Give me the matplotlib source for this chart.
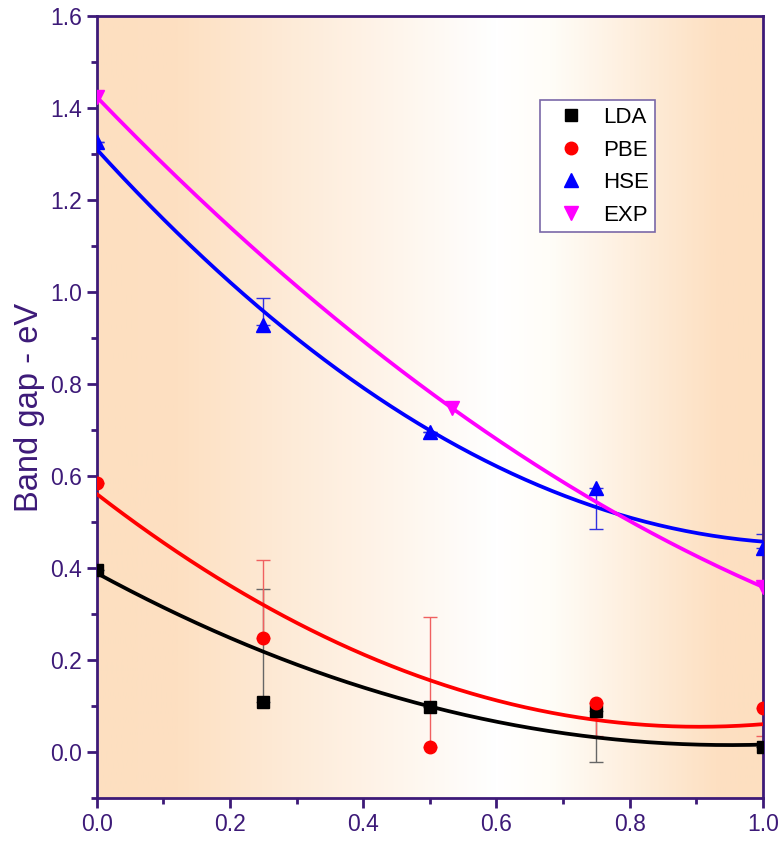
import numpy as np
import matplotlib
matplotlib.use('Agg')
import matplotlib.pyplot as plt
from matplotlib.colors import LinearSegmentedColormap
from matplotlib.lines import Line2D
from matplotlib.ticker import MultipleLocator, FormatStrFormatter

plt.rcParams['font.family'] = ['Liberation Sans', 'DejaVu Sans']

# measured band gaps
x = [0.0, 0.25, 0.5, 0.75, 1.0]
lda = [0.396, 0.109, 0.098, 0.089, 0.012]
pbe = [0.585, 0.248, 0.011, 0.106, 0.096]
hse = [1.326, 0.928, 0.696, 0.574, 0.443]
x_exp = [0.0, 0.533, 1.0]
exp = [1.424, 0.748, 0.359]

# error bars (lower, upper)
lda_err = [[0, 0, 0, 0.11, 0], [0, 0.245, 0, 0, 0]]
pbe_err = [[0, 0, 0, 0.07, 0.06], [0, 0.169, 0.282, 0, 0]]
hse_err = [[0, 0, 0, 0.09, 0], [0, 0.06, 0, 0, 0.03]]

# trend curve values
lda_trend = [0.39, 0.217, 0.098, 0.035, 0.015]
pbe_trend = [0.559, 0.324, 0.157, 0.065, 0.063]
hse_trend = [1.311, 0.957, 0.70, 0.533, 0.457]

purple = '#3d1a78'

fig = plt.figure(figsize=(7.8, 8.41), dpi=100)
ax = fig.add_axes([0.124, 0.051, 0.854, 0.930])

# background gradient
cmap = LinearSegmentedColormap.from_list('bg', [
    (0.0, '#fddfc0'), (0.12, '#fde0c2'), (0.6, '#ffffff'),
    (0.68, '#fffdf8'), (0.93, '#fde0c2'), (1.0, '#fddfc0')])
grad = np.linspace(0, 1, 400).reshape(1, -1)
ax.imshow(grad, cmap=cmap, extent=[0, 1, -0.1, 1.6], aspect='auto', zorder=0)

xx = np.linspace(0, 1, 200)
for trend, col in [(lda_trend, 'black'), (pbe_trend, 'red'), (hse_trend, 'blue')]:
    p = np.polyfit(x, trend, 2)
    ax.plot(xx, np.polyval(p, xx), color=col, lw=2.7, zorder=3)
p = np.polyfit(x_exp, exp, 2)
ax.plot(xx, np.polyval(p, xx), color='#ff00ff', lw=2.7, zorder=3)

ax.errorbar(x, lda, yerr=lda_err, fmt='none', ecolor='#666666', elinewidth=1, capsize=5, zorder=2)
ax.errorbar(x, pbe, yerr=pbe_err, fmt='none', ecolor='#f06060', elinewidth=1, capsize=5, zorder=2)
ax.errorbar(x, hse, yerr=hse_err, fmt='none', ecolor='#3030e0', elinewidth=1, capsize=5, zorder=2)

ax.plot(x, lda, 's', color='black', ms=8, zorder=4)
ax.plot(x, pbe, 'o', color='red', ms=9, zorder=4)
ax.plot(x, hse, '^', color='blue', ms=10, zorder=4)
ax.plot(x_exp, exp, 'v', color='#ff00ff', ms=10, zorder=4)

ax.set_xlim(0, 1)
ax.set_ylim(-0.1, 1.6)
ax.xaxis.set_major_locator(MultipleLocator(0.2))
ax.xaxis.set_minor_locator(MultipleLocator(0.1))
ax.yaxis.set_major_locator(MultipleLocator(0.2))
ax.yaxis.set_minor_locator(MultipleLocator(0.1))
ax.xaxis.set_major_formatter(FormatStrFormatter('%.1f'))
ax.yaxis.set_major_formatter(FormatStrFormatter('%.1f'))
ax.tick_params(which='both', direction='out', colors=purple, width=2, labelsize=16.5, labelcolor=purple)
ax.tick_params(which='major', length=7)
ax.tick_params(which='minor', length=4.5)
for s in ax.spines.values():
    s.set_color(purple)
    s.set_linewidth(2)

ax.set_ylabel('Band gap - eV', fontsize=23.5, color=purple, labelpad=4)

handles = [
    Line2D([], [], ls='none', marker='s', color='black', ms=8),
    Line2D([], [], ls='none', marker='o', color='red', ms=9),
    Line2D([], [], ls='none', marker='^', color='blue', ms=10),
    Line2D([], [], ls='none', marker='v', color='#ff00ff', ms=10),
]
leg = ax.legend(handles, ['LDA', 'PBE', 'HSE', 'EXP'], loc='upper left',
                bbox_to_anchor=(0.665, 0.892), borderaxespad=0, fontsize=16,
                frameon=True, fancybox=False, edgecolor='#7a68a8',
                handlelength=2.2, handletextpad=0.34, labelspacing=0.52,
                borderpad=0.3)
leg.get_frame().set_linewidth(1.2)
leg.get_frame().set_facecolor('white')
leg.get_frame().set_alpha(1)

fig.savefig('out.png', dpi=100)
